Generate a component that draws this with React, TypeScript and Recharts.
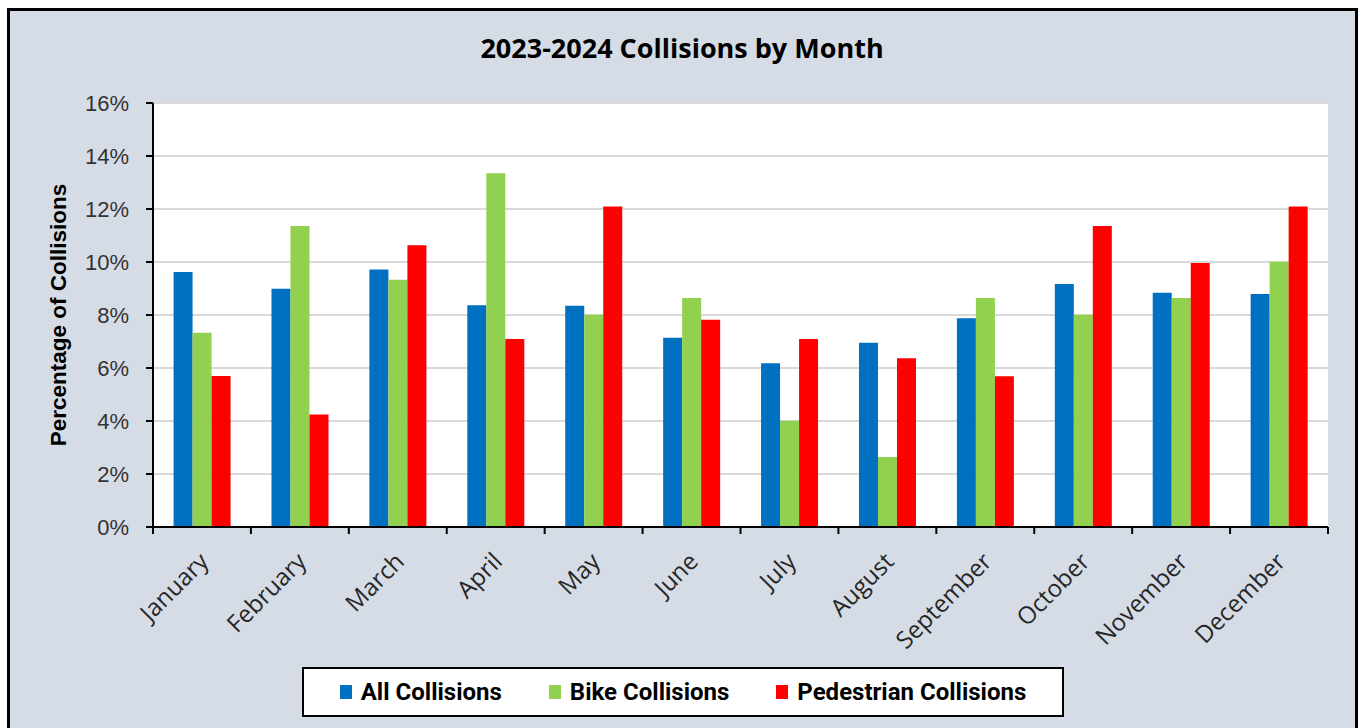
import React from 'react';
import { BarChart, Bar, XAxis, YAxis, CartesianGrid, Legend } from 'recharts';

const months = ['January', 'February', 'March', 'April', 'May', 'June', 'July', 'August', 'September', 'October', 'November', 'December'];
const allCollisions = [9.62, 8.99, 9.72, 8.37, 8.35, 7.14, 6.18, 6.95, 7.88, 9.17, 8.84, 8.79];
const bikeCollisions = [7.33, 11.36, 9.33, 13.35, 8.01, 8.64, 4.01, 2.64, 8.64, 8.01, 8.64, 10.01];
const pedestrianCollisions = [5.7, 4.25, 10.63, 7.09, 12.09, 7.82, 7.09, 6.37, 5.69, 11.36, 9.96, 12.09];
const yTicks = [0, 2, 4, 6, 8, 10, 12, 14, 16];
const seriesNames = ['All Collisions', 'Bike Collisions', 'Pedestrian Collisions'];
const seriesColors = ['#0070C0', '#92D050', '#FF0000'];

const data = months.map((m, i) => ({
  month: m,
  all: allCollisions[i],
  bike: bikeCollisions[i],
  ped: pedestrianCollisions[i],
}));

const W = 1360;
const H = 728;
const M = { top: 103, right: 32, bottom: 61, left: 43 };
const Y_AXIS_W = 110;
const X_AXIS_H = 140;
const PLOT_W = W - M.left - Y_AXIS_W - M.right;

const XTick = (props: any) => {
  const { x, y, payload, index } = props;
  const step = PLOT_W / months.length;
  const tx = x + 8;
  const ty = y + 36;
  return (
    <g>
      <line x1={x - step / 2} x2={x - step / 2} y1={y} y2={y + 7} stroke="#000" strokeWidth={2} />
      {index === months.length - 1 && (
        <line x1={x + step / 2} x2={x + step / 2} y1={y} y2={y + 7} stroke="#000" strokeWidth={2} />
      )}
      <text
        x={tx}
        y={ty}
        textAnchor="end"
        transform={`rotate(-45, ${tx}, ${ty})`}
        fill="#262626"
        fontSize={24}
        fontFamily="'Open Sans', sans-serif"
      >
        {payload.value}
      </text>
    </g>
  );
};

const LegendBox = () => (
  <div
    style={{
      boxSizing: 'border-box',
      width: 762,
      height: 50,
      background: '#fff',
      border: '2px solid #000',
      display: 'flex',
      alignItems: 'center',
      justifyContent: 'center',
      gap: 47,
      fontFamily: "Roboto, sans-serif",
      fontWeight: 700,
      fontSize: 24,
      color: '#000',
    }}
  >
    {seriesNames.map((n, i) => (
      <div key={n} style={{ display: 'flex', alignItems: 'center', gap: 9 }}>
        <span style={{ display: 'inline-block', width: 12, height: 14, background: seriesColors[i] }} />
        <span>{n}</span>
      </div>
    ))}
  </div>
);

const YTitle = (props: any) => {
  const { viewBox } = props;
  const cx = viewBox.x + 15;
  const cy = viewBox.y + viewBox.height / 2;
  return (
    <text
      x={cx}
      y={cy}
      textAnchor="middle"
      dominantBaseline="central"
      transform={`rotate(-90, ${cx}, ${cy})`}
      fontSize={22.5}
      fontWeight={700}
      fontFamily="'Liberation Sans', Arial, sans-serif"
      fill="#000"
    >
      Percentage of Collisions
    </text>
  );
};

export default function App() {
  return (
    <div style={{ position: 'absolute', left: 0, top: 0, width: W, height: H, overflow: 'hidden' }}>
      <div
        style={{
          position: 'absolute',
          left: 7,
          top: 8,
          width: 1351,
          height: 740,
          boxSizing: 'border-box',
          border: '3px solid #000',
          background: '#D6DCE5',
        }}
      />
      <div
        style={{
          position: 'absolute',
          left: 0,
          top: 31,
          width: W + 4,
          textAlign: 'center',
          fontFamily: "'Open Sans', sans-serif",
          fontWeight: 700,
          fontSize: 27,
          color: '#000',
          lineHeight: '34px',
        }}
      >
        2023-2024 Collisions by Month
      </div>
      <div style={{ position: 'absolute', left: 0, top: 0 }}>
        <BarChart width={W} height={H} data={data} margin={M} barCategoryGap="21%" barGap={0}>
          <CartesianGrid vertical={false} stroke="#D9D9D9" strokeWidth={2} fill="#FFFFFF" fillOpacity={1} />
          <XAxis
            dataKey="month"
            interval={0}
            height={X_AXIS_H}
            tickSize={0}
            tickMargin={0}
            tickLine={false}
            axisLine={{ stroke: '#000', strokeWidth: 2 }}
            tick={<XTick />}
          />
          <XAxis xAxisId="top" orientation="top" dataKey="month" height={0} tick={false} tickLine={false} axisLine={{ stroke: '#000', strokeWidth: 2 }} />
          <YAxis
            domain={[0, 16]}
            ticks={yTicks}
            interval={0}
            width={Y_AXIS_W}
            tickFormatter={(v: number) => `${v}%`}
            tick={{ fill: '#333', fontSize: 22, fontFamily: "'Liberation Sans', Arial, sans-serif" }}
            tickSize={7}
            tickMargin={17}
            tickLine={{ stroke: '#000', strokeWidth: 2 }}
            axisLine={{ stroke: '#000', strokeWidth: 2 }}
            label={{ content: <YTitle /> } as any}
          />
          <YAxis yAxisId="right" orientation="right" width={0} domain={[0, 16]} tick={false} tickLine={false} axisLine={{ stroke: '#000', strokeWidth: 2 }} />
          <Legend
            layout="horizontal"
            verticalAlign="middle"
            content={<LegendBox />}
            wrapperStyle={{ position: 'absolute', left: 302, top: 667, width: 762, height: 50 }}
          />
          <Bar dataKey="all" name={seriesNames[0]} fill={seriesColors[0]} isAnimationActive={false} />
          <Bar dataKey="bike" name={seriesNames[1]} fill={seriesColors[1]} isAnimationActive={false} />
          <Bar dataKey="ped" name={seriesNames[2]} fill={seriesColors[2]} isAnimationActive={false} />
        </BarChart>
      </div>
    </div>
  );
}
